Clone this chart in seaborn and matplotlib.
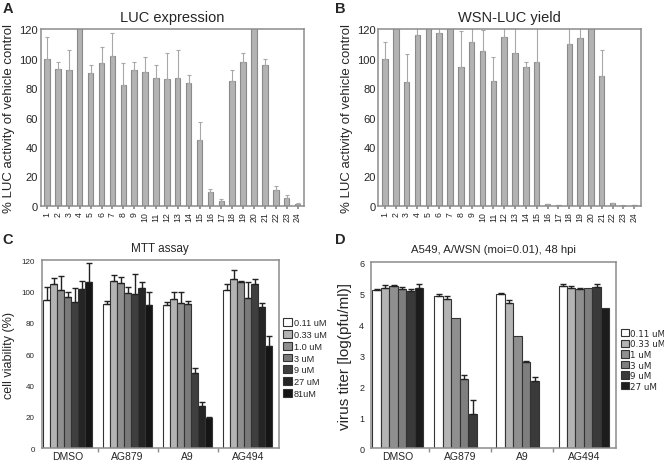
import numpy as np
import pandas as pd
import matplotlib
matplotlib.use("Agg")
import matplotlib.pyplot as plt
import seaborn as sns

# Panels A/B: compounds 1..24, % LUC activity of vehicle control
compounds = [str(i) for i in range(1, 25)]
luc_expr = [100, 93, 92, 130, 90.5, 97, 101.7, 82.4, 92, 91, 87, 86, 87, 83.4,
            45, 9.5, 3.3, 84.6, 98, 130, 96, 11, 5.3, 1.6]
luc_expr_err = [15, 5, 14, 0, 5, 11, 16, 14.6, 6, 10, 9, 18, 19, 5.3,
                12, 2.2, 1.6, 7.5, 6, 0, 3.7, 2.7, 2, 0.2]
wsn_yield = [100, 130, 84, 116, 130, 117.7, 130, 94, 111, 105, 85, 114.5, 104, 94.4,
             98, 1, 0.7, 110, 113.8, 130, 88.5, 2, 0.3, 0.4]
wsn_yield_err = [11.5, 0, 19, 8, 0, 6, 0, 25, 12, 14.5, 16, 10, 20, 3.4,
                 30, 0.2, 0.1, 15, 10, 0, 17.5, 0.3, 0.1, 0.1]

# Panels C/D: groups and concentrations
groups = ["DMSO", "AG879", "A9", "AG494"]
mtt_conc = ["0.11 uM", "0.33 uM", "1.0 uM", "3 uM", "9 uM", "27 uM", "81uM"]
mtt_vals = {
    "DMSO":  [94.3, 105, 100.9, 96.4, 93.4, 101.7, 106],
    "AG879": [92.3, 107, 105.5, 99, 98.7, 102, 91.3],
    "A9":    [91.5, 95.3, 93, 92, 48, 27, 19],
    "AG494": [100.8, 107.7, 105.8, 96, 104.7, 90.2, 65.2],
}
mtt_err = {
    "DMSO":  [8.5, 3.7, 9, 3.4, 9, 5.3, 12],
    "AG879": [1.7, 3.6, 4, 4, 12.3, 4, 8.5],
    "A9":    [1.9, 4.3, 6.6, 1.8, 2.9, 2.4, 1.2],
    "AG494": [3.9, 5.9, 1.2, 10, 3.3, 2.5, 6.2],
}
titer_conc = ["0.11 uM", "0.33 uM", "1 uM", "3 uM", "9 uM", "27 uM"]
titer_vals = {
    "DMSO":  [5.1, 5.15, 5.23, 5.14, 5.06, 5.17],
    "AG879": [4.91, 4.8, 4.2, 2.23, 1.09, np.nan],
    "A9":    [4.96, 4.68, 3.61, 2.78, 2.15, np.nan],
    "AG494": [5.23, 5.17, 5.12, 5.18, 5.2, 4.53],
}
titer_err = {
    "DMSO":  [0.03, 0.1, 0.03, 0.06, 0.06, 0.12],
    "AG879": [0.05, 0.12, 0.0, 0.14, 0.45, 0.0],
    "A9":    [0.04, 0.1, 0.0, 0.04, 0.16, 0.0],
    "AG494": [0.05, 0.05, 0.05, 0.0, 0.1, 0.09],
}

mtt_colors = ["#ffffff", "#b4b4b4", "#8f8f8f", "#7a7a7a", "#3f3f3f", "#252525", "#151515"]
titer_colors = ["#ffffff", "#b4b4b4", "#8f8f8f", "#7f7f7f", "#3a3a3a", "#1c1c1c"]

sns.set_theme(style="white")
plt.rcParams["font.family"] = ["Liberation Sans", "DejaVu Sans"]
SPINE = "#8c8c8c"

fig = plt.figure(figsize=(6.64, 4.64), dpi=100)


def style_frame(ax):
    for s in ax.spines.values():
        s.set_color(SPINE)
        s.set_linewidth(1.1)
        s.set_visible(True)


def single_panel(rect, vals, errs, title, letter, lx):
    ax = fig.add_axes(rect)
    df = pd.DataFrame({"compound": compounds, "value": vals})
    sns.barplot(data=df, x="compound", y="value", color="#b3b3b3",
                edgecolor="#8a8a8a", linewidth=0.8, width=0.5,
                saturation=1, errorbar=None, ax=ax)
    x = np.arange(len(compounds))
    e = np.array(errs)
    ax.errorbar(x, vals, yerr=[np.zeros_like(e), e], fmt="none",
                ecolor="#a8a8a8", elinewidth=0.8, capsize=1.5, capthick=0.8)
    ax.set_ylim(0, 120)
    ax.set_xlim(-0.6, 23.6)
    ax.set_yticks(range(0, 121, 20))
    ax.tick_params(axis="y", labelsize=8, length=0, pad=2)
    ax.tick_params(axis="x", labelsize=6.3, rotation=90, length=2.5,
                   color=SPINE, pad=1.5, bottom=True)
    ax.set_xlabel("")
    ax.set_ylabel("% LUC activity of vehicle control", fontsize=9.5, labelpad=3)
    ax.set_title(title, fontsize=10.5, pad=6)
    style_frame(ax)
    fig.text(lx, 0.995, letter, fontsize=10.5, fontweight="bold", va="top")
    return ax


def group_panel(rect, concs, vals, errs, colors, ylim, yticks, ylabel,
                title, letter, lx, legend_top, legend_font, legend_family,
                ytick_size, ylabel_size, title_size, legend_spacing):
    ax = fig.add_axes(rect)
    rows = []
    for g in groups:
        for c, v, e in zip(concs, vals[g], errs[g]):
            rows.append({"group": g, "conc": c, "value": v, "err": e})
    df = pd.DataFrame(rows)
    sns.barplot(data=df, x="group", y="value", hue="conc", palette=colors,
                hue_order=concs, edgecolor="#333333", linewidth=0.8,
                width=0.82, saturation=1, errorbar=None, ax=ax)
    bar_sets = list(ax.containers)
    for ci, cont in enumerate(bar_sets):
        for gi, patch in enumerate(cont.patches):
            h = vals[groups[gi]][ci]
            e = errs[groups[gi]][ci]
            if np.isnan(h) or e <= 0:
                continue
            xc = patch.get_x() + patch.get_width() / 2
            ax.errorbar([xc], [h], yerr=[[0], [e]], fmt="none",
                        ecolor="#222222", elinewidth=1.0, capsize=2,
                        capthick=1.0)
    ax.set_ylim(*ylim)
    ax.set_xlim(-0.43, 3.52)
    ax.set_yticks(yticks)
    ax.set_xticks([0.5, 1.5, 2.5], minor=True)
    ax.tick_params(axis="y", labelsize=ytick_size, length=0, pad=5)
    ax.tick_params(axis="x", which="major", labelsize=7.5, length=0, pad=2)
    ax.tick_params(axis="x", which="minor", length=3, color=SPINE,
                   bottom=True)
    ax.set_xlabel("")
    ax.set_ylabel(ylabel, fontsize=ylabel_size, labelpad=5)
    ax.set_title(title, fontsize=title_size, pad=7)
    style_frame(ax)
    ax.legend(loc="upper left", bbox_to_anchor=(1.004, legend_top),
              frameon=False, handlelength=0.9, handleheight=0.9,
              handletextpad=0.2, labelspacing=legend_spacing, borderaxespad=0,
              prop={"size": legend_font, "family": legend_family})
    fig.text(lx, 0.497, letter, fontsize=10.5, fontweight="bold", va="top")
    return ax


single_panel([0.061, 0.554, 0.397, 0.381], luc_expr, luc_expr_err,
             "LUC expression", "A", 0.004)
single_panel([0.570, 0.554, 0.395, 0.381], wsn_yield, wsn_yield_err,
             "WSN-LUC yield", "B", 0.504)
group_panel([0.063, 0.032, 0.357, 0.405], mtt_conc, mtt_vals, mtt_err,
            mtt_colors, (0, 120), range(0, 121, 20), "cell viability (%)",
            "MTT assay", "C", 0.004, 0.71, 6.6, ["Liberation Sans"],
            5.8, 9, 8.5, 0.3)
group_panel([0.559, 0.032, 0.369, 0.401], titer_conc, titer_vals, titer_err,
            titer_colors, (0, 6), range(0, 7), "virus titer [log(pfu/ml)]",
            "A549, A/WSN (moi=0.01), 48 hpi", "D", 0.504, 0.66, 6.3,
            ["DejaVu Sans"], 6.5, 11, 8.2, 0.18)

fig.savefig("out.png", dpi=100)
